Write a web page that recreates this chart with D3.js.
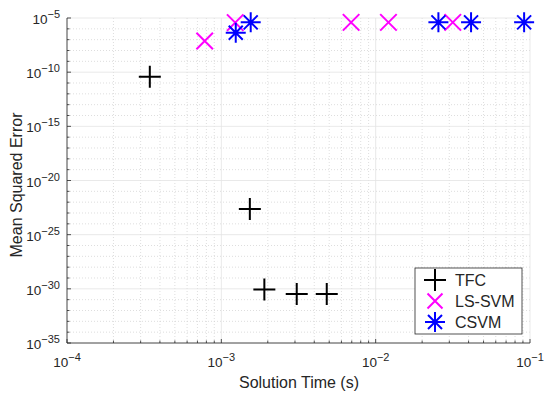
<!DOCTYPE html>
<html>
<head>
<meta charset="utf-8">
<script src="https://cdn.jsdelivr.net/npm/d3@7"></script>
<style>
  body { margin: 0; background: #fff; }
  text { font-family: "Liberation Sans", Arial, Helvetica, sans-serif; fill: #262626; }
</style>
</head>
<body>
<svg id="chart" width="550" height="397"></svg>
<script>
// solution time (s) and mean squared error
const tfcTime = [3.44e-4, 1.53e-3, 1.9e-3, 3.08e-3, 4.82e-3];
const tfcErr  = [10 ** -10.42, 10 ** -22.63, 10 ** -30.05, 10 ** -30.48, 10 ** -30.48];

const lssvmTime = [7.8e-4, 1.23e-3, 6.93e-3, 1.21e-2, 3.16e-2];
const lssvmErr  = [10 ** -7.12, 10 ** -5.43, 10 ** -5.4, 10 ** -5.4, 10 ** -5.4];

const csvmTime = [1.24e-3, 1.55e-3, 2.55e-2, 4.15e-2, 9.16e-2];
const csvmErr  = [10 ** -6.36, 10 ** -5.4, 10 ** -5.4, 10 ** -5.4, 10 ** -5.4];

const xTickExp = [-4, -3, -2, -1];
const yTickExp = [-35, -30, -25, -20, -15, -10, -5];

const series = [
  {name: "TFC", time: tfcTime, err: tfcErr, color: "#000", shape: "plus"},
  {name: "LS-SVM", time: lssvmTime, err: lssvmErr, color: "#ff00ff", shape: "cross"},
  {name: "CSVM", time: csvmTime, err: csvmErr, color: "#0000ff", shape: "star"}
];

const svg = d3.select("#chart");
const margin = {top: 18, right: 20, bottom: 54, left: 67};
const W = 550, H = 397;

const x = d3.scaleLog().domain([1e-4, 1e-1]).range([margin.left, W - margin.right]);
const y = d3.scaleLog().domain([1e-35, 1e-5]).range([H - margin.bottom, margin.top]);

const x0 = margin.left, x1 = W - margin.right, y0 = H - margin.bottom, y1 = margin.top;

// grid: minor dotted, major solid
const grid = svg.append("g");
const xMinor = [];
for (let e = -4; e < -1; e++) for (let k = 2; k <= 9; k++) xMinor.push(k * 10 ** e);
const yMinor = d3.range(-35, -4).filter(e => e % 5 !== 0).map(e => 10 ** e);

grid.selectAll(".xm").data(xMinor).join("line")
  .attr("x1", d => x(d)).attr("x2", d => x(d)).attr("y1", y0).attr("y2", y1)
  .attr("stroke", "#d0d0d0").attr("stroke-width", 0.7).attr("stroke-dasharray", "1,2");
grid.selectAll(".ym").data(yMinor).join("line")
  .attr("x1", x0).attr("x2", x1).attr("y1", d => y(d)).attr("y2", d => y(d))
  .attr("stroke", "#d0d0d0").attr("stroke-width", 0.7).attr("stroke-dasharray", "1,2");
grid.selectAll(".xM").data(xTickExp).join("line")
  .attr("x1", d => x(10 ** d)).attr("x2", d => x(10 ** d)).attr("y1", y0).attr("y2", y1)
  .attr("stroke", "#e3e3e3").attr("stroke-width", 0.8);
grid.selectAll(".yM").data(yTickExp).join("line")
  .attr("x1", x0).attr("x2", x1).attr("y1", d => y(10 ** d)).attr("y2", d => y(10 ** d))
  .attr("stroke", "#e3e3e3").attr("stroke-width", 0.8);

// axes lines and inward ticks
const ax = svg.append("g").attr("stroke", "#262626").attr("stroke-width", 0.8);
ax.append("line").attr("x1", x0).attr("x2", x1).attr("y1", y0).attr("y2", y0);
ax.append("line").attr("x1", x0).attr("x2", x0).attr("y1", y0).attr("y2", y1);
ax.selectAll(".xt").data(xTickExp.map(e => 10 ** e).concat(xMinor)).join("line")
  .attr("x1", d => x(d)).attr("x2", d => x(d))
  .attr("y1", y0).attr("y2", (d, i) => y0 - (i < xTickExp.length ? 4 : 2.5));
ax.selectAll(".yt").data(yTickExp.map(e => 10 ** e).concat(yMinor)).join("line")
  .attr("y1", d => y(d)).attr("y2", d => y(d))
  .attr("x1", x0).attr("x2", (d, i) => x0 + (i < yTickExp.length ? 4 : 2.5));

// tick labels with superscript exponents
const xl = svg.append("g");
xTickExp.forEach(e => {
  const t = xl.append("text").attr("x", x(10 ** e)).attr("y", y0 + 24)
    .attr("text-anchor", "middle").attr("font-size", 13.5);
  t.append("tspan").text("10");
  t.append("tspan").attr("dy", -6).attr("font-size", 11).text("−" + (-e));
});
yTickExp.forEach(e => {
  const t = xl.append("text").attr("x", x0 - 7).attr("y", y(10 ** e) + 6)
    .attr("text-anchor", "end").attr("font-size", 13.5);
  t.append("tspan").text("10");
  t.append("tspan").attr("dy", -6).attr("font-size", 11).text("−" + (-e));
});

// axis titles
svg.append("text").attr("x", 299).attr("y", 388)
  .attr("text-anchor", "middle").attr("font-size", 16).text("Solution Time (s)");
svg.append("text").attr("transform", "translate(22,185) rotate(-90)")
  .attr("text-anchor", "middle").attr("font-size", 16).text("Mean Squared Error");

// marker shapes
function marker(g, shape, color, r) {
  if (shape === "plus") {
    g.append("path").attr("d", `M${-r},0H${r}M0,${-r}V${r}`);
  } else if (shape === "cross") {
    const s = r * 0.75;
    g.append("path").attr("d", `M${-s},${-s}L${s},${s}M${-s},${s}L${s},${-s}`);
  } else {
    const s = r * 0.7;
    g.append("path").attr("d", `M${-r},0H${r}M0,${-r}V${r}M${-s},${-s}L${s},${s}M${-s},${s}L${s},${-s}`);
  }
  g.attr("stroke", color).attr("stroke-width", 2).attr("fill", "none");
}

const sizes = {plus: 11, cross: 11, star: 10};

series.forEach(s => {
  const pts = s.time.map((t, i) => [t, s.err[i]]);
  const g = svg.append("g");
  g.selectAll("g").data(pts).join("g")
    .attr("transform", d => `translate(${x(d[0])},${y(d[1])})`)
    .each(function () { marker(d3.select(this), s.shape, s.color, sizes[s.shape]); });
});

// legend
const lg = svg.append("g").attr("transform", "translate(415,268)");
lg.append("rect").attr("width", 107).attr("height", 66)
  .attr("fill", "#fff").attr("stroke", "#262626").attr("stroke-width", 0.8);
series.forEach((s, i) => {
  const row = lg.append("g").attr("transform", `translate(0,${12 + i * 21})`);
  marker(row.append("g").attr("transform", "translate(20,0)"), s.shape, s.color, s.shape === "plus" ? 11 : 10);
  row.append("text").attr("x", 40).attr("y", 6).attr("font-size", 16).text(s.name);
});
</script>
</body>
</html>
